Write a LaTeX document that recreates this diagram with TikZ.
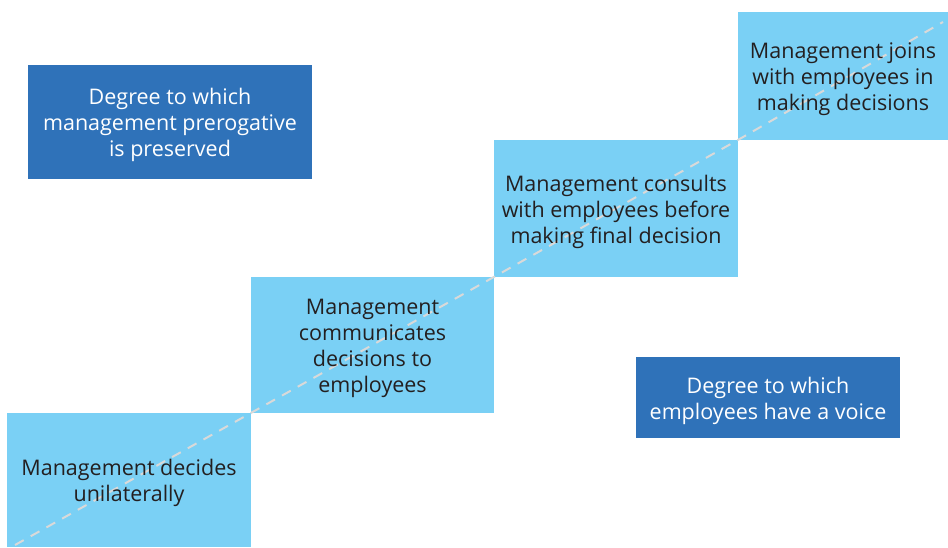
\documentclass[tikz,border=0pt]{standalone}
\usepackage{fontspec}
\setmainfont{Open Sans}
\definecolor{lightb}{HTML}{7AD0F5}
\definecolor{darkb}{HTML}{2F72B9}
\definecolor{dashc}{HTML}{D9D9D9}
\definecolor{txt}{HTML}{231F20}
\begin{document}
\begin{tikzpicture}[x=1pt,y=-1pt,
  stepbox/.style={fill=lightb, inner sep=0pt},
  labelbox/.style={fill=darkb, inner sep=0pt},
  steptext/.style={inner sep=0pt, yshift=-3pt, text=txt, align=center, font=\fontsize{21.5}{26}\selectfont},
  labeltext/.style={inner sep=0pt, yshift=-3pt, text=white, align=center, font=\fontsize{21.5}{26}\selectfont}]
\useasboundingbox (0,0) rectangle (948,547);
\node[stepbox, minimum width=244pt, minimum height=134pt] (s1) at (129,480) {};
\node[stepbox, minimum width=243pt, minimum height=136pt] (s2) at (372.5,345) {};
\node[stepbox, minimum width=244pt, minimum height=137pt] (s3) at (616,208.5) {};
\node[stepbox, minimum width=210pt, minimum height=128pt] (s4) at (843,76) {};
\node[labelbox, minimum width=284pt, minimum height=114pt] (d1) at (170,122) {};
\node[labelbox, minimum width=264pt, minimum height=81pt] (d2) at (768,397.5) {};
\coordinate (ls) at (15,545);
\coordinate (le) at (943,22);
\draw[dashc, line width=2pt, dash pattern=on 10pt off 8pt] (ls) -- (s1.north east) -- (s2.north east) -- (s3.north east) -- (le);
\node[steptext] (t1) at (s1.center) {Management decides\\unilaterally};
\node[steptext] (t2) at (s2.center) {Management\\communicates\\decisions to\\employees};
\node[steptext] (t3) at (s3.center) {Management consults\\with employees before\\making final decision};
\node[steptext] (t4) at (s4.center) {Management joins\\with employees in\\making decisions};
\node[labeltext] (u1) at (d1.center) {Degree to which\\management prerogative\\is preserved};
\node[labeltext] (u2) at (d2.center) {Degree to which\\employees have a voice};
\end{tikzpicture}
\end{document}
